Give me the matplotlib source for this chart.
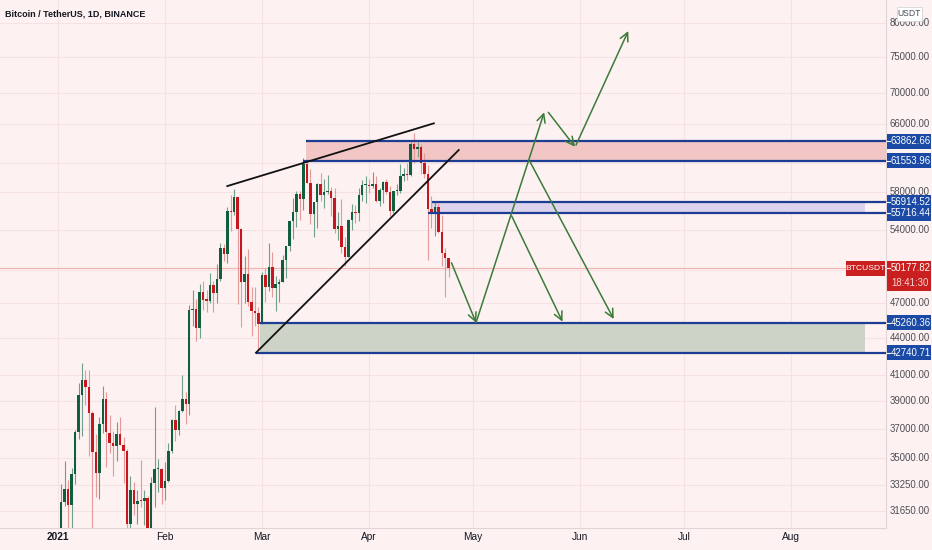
import numpy as np
import pandas as pd
import matplotlib
matplotlib.use("Agg")
import matplotlib.pyplot as plt
from matplotlib.patches import Rectangle

plt.rcParams['font.family'] = ['Liberation Sans', 'DejaVu Sans']

# daily BTCUSDT candles, 1 Jan - 24 Apr 2021
dates = pd.date_range("2021-01-01", "2021-04-24", freq="D")
opens = [28923, 29331, 32176, 33000, 31989, 33950, 36769, 39432, 40586, 40088, 38150, 35410, 34050, 37372, 39141, 36732,
         35994, 35824, 36622, 35901, 35468, 30851, 32950, 32079, 32259, 32254, 32464, 30363, 33369, 34253, 34262,
         33093, 33517, 35467, 37619, 36936, 38289, 39181, 38795, 46374, 46420, 44807, 47968, 47298, 47156, 48580, 47911,
         49133, 52117, 51553, 55906, 55841, 57412, 54088, 48891, 49676, 47073, 46277, 46104,
         45135, 49595, 48436, 50349, 48374, 48746, 48882, 50959, 52376, 54875, 55851, 57773, 57222, 61188, 58976, 55605,
         56900, 58913, 57641, 58030, 58100, 57352, 54083, 54342, 52303, 51293, 55025, 55817, 55782, 57628, 58730,
         58740, 58720, 58950, 57051, 58202, 59130, 57990, 55953, 58077, 58142, 59770, 60007, 59861, 63575, 62959, 63159,
         61334, 60001, 56150, 55633, 56426, 53787, 51702, 51187]
highs = [29600, 33300, 34778, 33600, 34360, 36939, 40365, 41950, 41380, 41350, 38264, 36628, 37850, 40100, 39700, 37950,
         36852, 37469, 37850, 36415, 35600, 33826, 33456, 32944, 34875, 32921, 32557, 33783, 38531, 34934, 34342,
         34717, 35984, 37662, 38708, 38310, 40955, 39700, 46794, 48200, 47310, 48678, 48985, 48150, 49707, 49010, 50600,
         52618, 52530, 56368, 57700, 58352, 57508, 54183, 51374, 52041, 48424, 48394, 46640,
         49790, 50200, 52640, 51773, 49448, 49200, 51450, 52402, 54900, 57387, 58150, 58081, 61844, 61683, 60633, 56938,
         58974, 60100, 59468, 59880, 58589, 58430, 55830, 57200, 53230, 55073, 56700, 56559, 58400, 59368, 59800,
         59490, 60200, 59791, 58500, 59252, 59500, 58650, 58153, 58869, 61200, 60700, 61300, 63777, 64854, 63800, 63571,
         62500, 61057, 57526, 57076, 56757, 55521, 52130, 51200]
lows = [28624, 28946, 31962, 28130, 29900, 33288, 36300, 36500, 38720, 35111, 30420, 32531, 32380, 36701, 34408, 35357,
        33850, 34800, 35844, 33400, 30071, 28850, 31390, 30900, 31910, 30837, 29241, 29842, 31915, 32825, 32050,
        32296, 33419, 35363, 36161, 36571, 38215, 37351, 37988, 45000, 43727, 43994, 46400, 46202, 47015, 46174, 47003,
        48947, 50901, 50710, 53863, 55477, 46900, 44892, 47003, 46674, 44106, 45000, 43000,
        45115, 47047, 48100, 47500, 46300, 47070, 48882, 49274, 51845, 53005, 54273, 54962, 56078, 58966, 54600, 53271,
        54124, 57023, 56270, 57820, 55450, 53650, 53000, 51700, 50427, 51280, 53962, 54691, 54900, 57000, 56769,
        57935, 58427, 56880, 56478, 56817, 57800, 55473, 55700, 57654, 57900, 59266, 59350, 59800, 61301, 62020, 60000,
        59580, 51000, 54221, 53329, 53696, 50400, 47500, 49380]
closes = [29331, 32178, 33000, 31988, 33949, 36769, 39432, 40582, 40088, 38150, 35404, 34051, 37371, 39144, 36742, 35994,
          35828, 36632, 35891, 35468, 30850, 32945, 32078, 32260, 32254, 32467, 30366, 33364, 34252, 34262, 33092,
          33526, 35466, 37618, 36936, 38290, 39186, 38795, 46374, 46420, 44807, 47969, 47288, 47153, 48577, 47911, 49133,
          52119, 51552, 55906, 55841, 57408, 54087, 48891, 49676, 47073, 46276, 46106, 45135,
          49587, 48440, 50349, 48374, 48751, 48882, 50971, 52375, 54884, 55851, 57773, 57221, 61188, 58968, 55605, 56900,
          58912, 57648, 58030, 58102, 57351, 54083, 54340, 52303, 51293, 55025, 55817, 55777, 57628, 58730, 58741,
          58720, 58950, 57051, 58202, 59129, 57991, 55953, 58077, 58142, 59770, 60007, 59860, 63575, 62959, 63159, 61334,
          60006, 56150, 55633, 56425, 53787, 51701, 51187, 50177.82]
last_price = 50177.82

# horizontal zones (low, high, start day)
zone_lows = [61553.96, 55716.44, 42740.71]
zone_highs = [63862.66, 56914.52, 45260.36]
zone_start_low = [70.9, 107.0, 57.3]
zone_start_high = [71.7, 108.1, 58.4]
zone_fills = ['#f1c6c4', '#ddd3ec', '#cdd3c6']
zone_fill_end = [None, 233.3, 233.3]

# wedge lines (days since 1 Jan, price)
wedge_days = [[49.0, 108.7], [57.3, 115.9]]
wedge_prices = [[58665, 66088], [42748, 62820]]

# projected path arrows
arrow_start_days = [113.8, 120.9, 141.8, 149.8, 131.2, 136.5]
arrow_start_prices = [50714, 45260, 67483, 63420, 55420, 61440]
arrow_end_days = [120.9, 140.6, 149.5, 164.9, 145.9, 160.7]
arrow_end_prices = [45260, 67483, 63214, 78750, 45343, 45573]

month_days = [0, 31, 59, 90, 120, 151, 181, 212]
month_labels = ['2021', 'Feb', 'Mar', 'Apr', 'May', 'Jun', 'Jul', 'Aug']
ytick_values = [80000, 75000, 70000, 66000, 58000, 54000, 47000, 44000, 41000, 39000, 37000, 35000, 33250, 31650]
grid_values = ytick_values + [61300, 50000]

BG = '#fdf1f1'
GRID = '#f6e2e2'
UP = '#0f5e3d'
DOWN = '#c8161f'
LINE_BLUE = '#1d3d95'
LABEL_BLUE = '#1a4aa6'
ARROW = '#3b7b3a'
TEXT = '#131722'
FS = 6.9

W, H = 932, 550
fig = plt.figure(figsize=(W / 100, H / 100), dpi=100, facecolor=BG)
ax = fig.add_axes([0, 22 / H, 886 / W, 528 / H], facecolor=BG)
ax.set_yscale('log')
ax.set_xlim(-16.7, 239.4)
ax.set_ylim(30645, 83530)
ax.set_xticks([])
ax.set_yticks([])
ax.minorticks_off()
for s in ['top', 'left']:
    ax.spines[s].set_visible(False)
for s in ['right', 'bottom']:
    ax.spines[s].set_color('#e2d4d4')
    ax.spines[s].set_linewidth(0.8)

for v in grid_values:
    ax.axhline(v, color=GRID, lw=0.8, zorder=0)
for m in month_days:
    ax.axvline(m, color=GRID, lw=0.8, zorder=0)

d = np.array((dates - dates[0]).days, dtype=float)
o = np.array(opens, float)
h = np.array(highs, float)
l = np.array(lows, float)
c = np.array(closes, float)
up = c >= o
body_lo = np.minimum(o, c)
body_hi = np.maximum(np.maximum(o, c), body_lo * 1.002)

ax.vlines(d[up], l[up], h[up], color='#6f9f88', lw=0.8, zorder=2)
ax.vlines(d[~up], l[~up], h[~up], color='#e59a9a', lw=0.8, zorder=2)
ax.bar(d, body_hi - body_lo, bottom=body_lo, width=0.72,
       color=np.where(up, UP, DOWN), linewidth=0, zorder=3)

# last price line
ax.axhline(last_price, color='#f0b2b2', lw=0.8, zorder=1)

# zones
xmax = ax.get_xlim()[1]
for lo, hi, s_lo, s_hi, fc, fe in zip(zone_lows, zone_highs, zone_start_low, zone_start_high, zone_fills, zone_fill_end):
    end = xmax if fe is None else fe
    ax.add_patch(Rectangle((s_hi, lo), end - s_hi, hi - lo, facecolor=fc, edgecolor='none', zorder=1.5))
    ax.hlines(hi, s_hi, xmax, color=LINE_BLUE, lw=1.6, zorder=4)
    ax.hlines(lo, s_lo, xmax, color=LINE_BLUE, lw=1.6, zorder=4)

# wedge
for wd, wp in zip(wedge_days, wedge_prices):
    ax.plot(wd, wp, color='#111111', lw=1.3, zorder=5)

# arrows
for x0, y0, x1, y1 in zip(arrow_start_days, arrow_start_prices, arrow_end_days, arrow_end_prices):
    ax.annotate('', xy=(x1, y1), xytext=(x0, y0),
                arrowprops=dict(arrowstyle='->,head_length=0.6,head_width=0.3', color=ARROW,
                                lw=1.1, shrinkA=0, shrinkB=0), zorder=6)

# time axis labels
for m, lab in zip(month_days, month_labels):
    ax.text(m, -9 / 528, lab, transform=ax.get_xaxis_transform(), ha='center', va='center',
            fontsize=7.3, color=TEXT, weight='bold' if lab == '2021' else 'normal')

# price axis labels
ytr = ax.get_yaxis_transform()
lab_x = 910 / 886
for v in ytick_values:
    ax.text(lab_x, v, f'{v:.2f}', transform=ytr, ha='center', va='center', fontsize=FS,
            color='#4a4d55', clip_on=False)


def ypix(price):
    return ax.transData.transform((0, price))[1]


def box(x0, x1, y0, y1, color):
    fig.add_artist(Rectangle((x0 / W, y0 / H), (x1 - x0) / W, (y1 - y0) / H,
                             transform=fig.transFigure, facecolor=color, edgecolor='none', zorder=8))


for v in zone_lows + zone_highs:
    yp = ypix(v)
    box(887, 931, yp - 7.5, yp + 7.5, LABEL_BLUE)
    fig.add_artist(plt.Line2D([887 / W, 889.5 / W], [yp / H, yp / H], color='white', lw=0.8, zorder=9))
    fig.text(910.5 / W, yp / H, f'{v:.2f}', ha='center', va='center', fontsize=FS, color='white', zorder=9)

yp = ypix(last_price)
box(846, 885, yp - 7.5, yp + 7.5, '#c9201f')
fig.text(865.5 / W, yp / H, 'BTCUSDT', ha='center', va='center', fontsize=6.1, color='white', zorder=9)
box(887, 931, yp - 22.5, yp + 7.5, '#c9201f')
fig.add_artist(plt.Line2D([887 / W, 889.5 / W], [yp / H, yp / H], color='white', lw=0.8, zorder=9))
fig.text(910.5 / W, yp / H, f'{last_price:.2f}', ha='center', va='center', fontsize=FS, color='white', zorder=9)
fig.text(910.5 / W, (yp - 15) / H, '18:41:30', ha='center', va='center', fontsize=FS, color='#f6d6d6', zorder=9)

# currency tag
fig.add_artist(Rectangle((897 / W, 1 - 21 / H), 25 / W, 14 / H, transform=fig.transFigure,
                         facecolor='white', edgecolor='#d6d6d6', lw=0.6, zorder=8))
fig.text(909.5 / W, 1 - 14 / H, 'USDT', ha='center', va='center', fontsize=6.2, color='#4a4d55', zorder=9)

fig.text(5 / W, 1 - 14 / H, 'Bitcoin / TetherUS, 1D, BINANCE', ha='left', va='center',
         fontsize=6.5, color=TEXT, weight='bold')

fig.savefig('out.png', dpi=100, facecolor=BG)
